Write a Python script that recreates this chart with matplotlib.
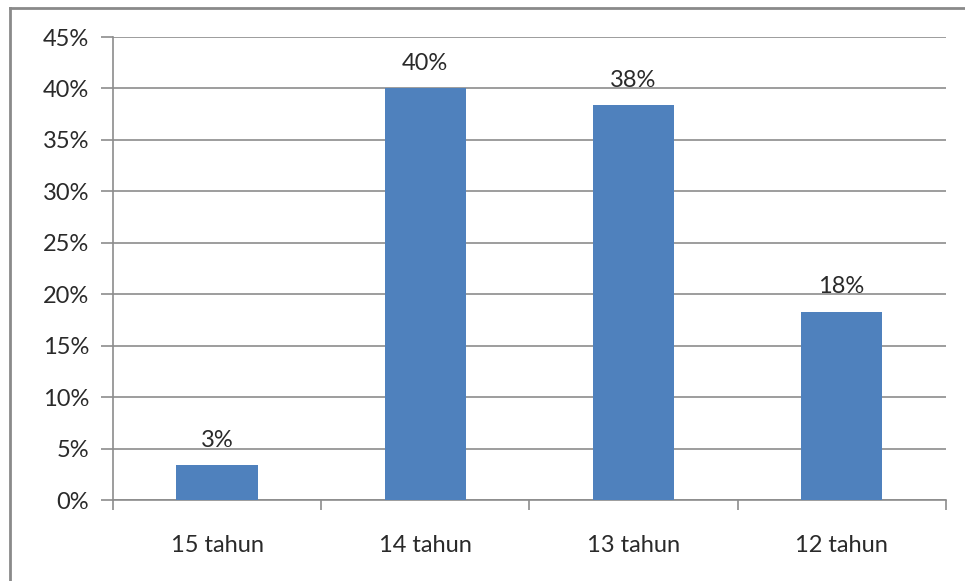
import matplotlib.pyplot as plt
import numpy as np
from matplotlib.lines import Line2D

categories = ["15 tahun", "14 tahun", "13 tahun", "12 tahun"]
values = [3.4, 40.0, 38.4, 18.3]
labels = ["3%", "40%", "38%", "18%"]
yticks = [0, 5, 10, 15, 20, 25, 30, 35, 40, 45]

plt.rcParams['font.family'] = ['Lato', 'DejaVu Sans']

fig = plt.figure(figsize=(9.65, 5.81), dpi=100)
ax = fig.add_axes([0.117, 0.1394, 0.863, 0.7969])

x = np.arange(len(categories))
ax.bar(x, values, width=0.39, color="#4F81BD", zorder=3)

for xi, v, lab in zip(x, values, labels):
    ax.text(xi, v + 1.4, lab, ha="center", va="bottom", fontsize=17, color="#2a2a2a")

ax.set_xlim(-0.5, len(categories) - 0.5)
ax.set_ylim(0, 45)
ax.set_yticks(yticks)
ax.set_yticklabels([f"{t}%" for t in yticks])
ax.grid(axis="y", color="#8c8c8c", linewidth=1.2, zorder=0)

ax.set_xticks(x)
ax.set_xticklabels(categories)
ax.set_xticks(np.arange(len(categories) + 1) - 0.5, minor=True)
ax.tick_params(axis="x", which="major", length=0, pad=25, labelsize=17, labelcolor="#2a2a2a")
ax.tick_params(axis="x", which="minor", length=7, width=1.2, color="#8c8c8c")
ax.tick_params(axis="y", length=9, width=1.2, color="#8c8c8c", pad=8, labelsize=17, labelcolor="#2a2a2a")

for side in ["top", "right"]:
    ax.spines[side].set_visible(False)
for side in ["left", "bottom"]:
    ax.spines[side].set_color("#8c8c8c")
    ax.spines[side].set_linewidth(1.2)

# outer frame (left and top edges of the pasted chart)
fig.add_artist(Line2D([10 / 965, 10 / 965], [0, 1 - 8 / 581], transform=fig.transFigure,
                      color="#8a8a8a", linewidth=2.0))
fig.add_artist(Line2D([10 / 965, 1], [1 - 8 / 581, 1 - 8 / 581], transform=fig.transFigure,
                      color="#8a8a8a", linewidth=2.0))

fig.savefig("out.png", dpi=100)
